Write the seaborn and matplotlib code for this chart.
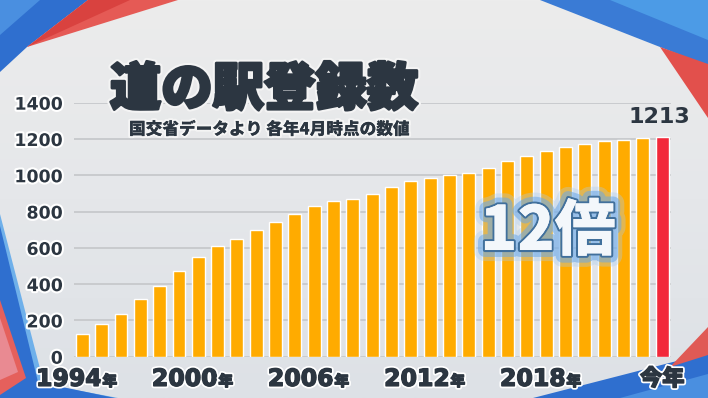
import numpy as np
import pandas as pd
import seaborn as sns
import matplotlib.pyplot as plt
import matplotlib.patheffects as pe
from matplotlib.patches import Polygon

sns.set_theme(style="white")
plt.rcParams['font.family'] = ['Noto Sans CJK JP', 'DejaVu Sans']

# data (registered count, April each year)
years = [str(y) for y in range(1994, 2024)] + ["今年"]
counts = [123, 180, 233, 316, 391, 470, 551, 612, 650, 700, 744, 784, 830, 860, 867,
          898, 935, 970, 987, 1003, 1014, 1040, 1076, 1106, 1133, 1154, 1173, 1187,
          1194, 1203, 1213]
labelled = ["1994", "2000", "2006", "2012", "2018", "今年"]

orange = "#ffab00"
red = "#f2283a"
dark = "#2c3641"

df = pd.DataFrame({"year": years, "count": counts})
bar_colors = [orange] * (len(years) - 1) + [red]

fig = plt.figure(figsize=(7.08, 3.98), dpi=100)

# background gradient + corner decoration
bg = fig.add_axes([0, 0, 1, 1], zorder=-10)
grad = np.linspace(0, 1, 256).reshape(-1, 1)
bg.imshow(grad, aspect="auto", cmap=sns.blend_palette(["#ececec", "#e5e7ea", "#dde1e6"], as_cmap=True),
          extent=[0, 708, 398, 0])
deco = [
    ([(0, 0), (88, 0), (27, 47), (0, 72)], "#2f6fcf"),
    ([(0, 0), (40, 0), (0, 35)], "#4a8fe0"),
    ([(88, 0), (178, 0), (27, 47)], "#e55a55"),
    ([(88, 0), (130, 0), (27, 47)], "#d9423f"),
    ([(540, 0), (708, 0), (708, 66), (660, 47)], "#3a7bd5"),
    ([(610, 0), (708, 0), (708, 40)], "#4c9be6"),
    ([(660, 47), (708, 64), (708, 118)], "#e2504c"),
    ([(0, 214), (44, 384), (118, 398), (0, 398)], "#6fb0ea"),
    ([(0, 226), (38, 382), (115, 398), (0, 398)], "#2f6fcf"),
    ([(0, 300), (26, 378), (0, 395)], "#e5605c"),
    ([(0, 318), (18, 372), (0, 380)], "#e98a92"),
    ([(533, 398), (708, 353), (708, 398)], "#2f6fcf"),
    ([(620, 398), (708, 374), (708, 398)], "#4a8fe0"),
    ([(670, 367), (708, 327), (708, 355)], "#e05a55"),
]
for pts, c in deco:
    bg.add_patch(Polygon(pts, closed=True, color=c, lw=0))
bg.set_xlim(0, 708)
bg.set_ylim(398, 0)
bg.axis("off")

ax = fig.add_axes([74 / 708, 41.3 / 398, 597 / 708, 254 / 398])
ax.patch.set_alpha(0)
sns.barplot(data=df, x="year", y="count", hue="year", palette=bar_colors,
            legend=False, width=0.67, ax=ax, saturation=1, zorder=3)

ax.set_xlim(-0.43, len(years) - 0.55)
ax.set_ylim(0, 1400)
ax.set_yticks(range(0, 1401, 200))
ax.yaxis.grid(True, color="#c9cbce", lw=1.4, zorder=0)
ax.set_axisbelow(True)
for s in ax.spines.values():
    s.set_visible(False)
ax.set_xlabel("")
ax.set_ylabel("")
ax.set_xticks([])
ax.tick_params(axis="y", length=0, pad=8)
outline = [pe.withStroke(linewidth=3, foreground="white")]
heavy = [pe.withStroke(linewidth=3.5, foreground="white"),
         pe.withStroke(linewidth=1, foreground=dark), pe.Normal()]
for t in ax.get_yticklabels():
    t.set_fontsize(12.5)
    t.set_fontweight("bold")
    t.set_color(dark)
    t.set_family(["DejaVu Sans"])
    t.set_path_effects(outline)

# x labels: big digits + small 年
for lab in labelled:
    i = years.index(lab)
    if lab == "今年":
        ax.annotate(lab, xy=(i, 0), xycoords=("data", "axes fraction"),
                    xytext=(0, -16), textcoords="offset points", ha="center", va="center",
                    fontsize=16, fontweight="black", color=dark, path_effects=heavy)
    else:
        ax.annotate(lab, xy=(i, 0), xycoords=("data", "axes fraction"),
                    xytext=(14, -21), textcoords="offset points", ha="right", va="baseline",
                    fontsize=17, fontweight="bold", color=dark, family=["DejaVu Sans"],
                    path_effects=heavy)
        ax.annotate("年", xy=(i, 0), xycoords=("data", "axes fraction"),
                    xytext=(14.5, -21), textcoords="offset points", ha="left", va="baseline",
                    fontsize=10.5, fontweight="black", color=dark, path_effects=heavy)

# value of the last bar
ax.annotate(str(counts[-1]), xy=(len(years) - 1, counts[-1]), xytext=(-2, 7),
            textcoords="offset points", ha="center", va="bottom", fontsize=16,
            fontweight="bold", color=dark, family=["DejaVu Sans"], annotation_clip=False)

fig.text(264 / 708, 1 - 90 / 398, "道の駅登録数", ha="center", va="center", fontsize=37,
         fontweight="black", color=dark,
         path_effects=[pe.withStroke(linewidth=5, foreground="#f4f4f4"),
                       pe.withStroke(linewidth=2, foreground=dark), pe.Normal()])
fig.text(269 / 708, 1 - 129.5 / 398, "国交省データより 各年4月時点の数値", ha="center", va="center",
         fontsize=12, fontweight="black", color=dark,
         path_effects=[pe.withStroke(linewidth=3, foreground="#f4f4f4"), pe.Normal()])

glow = [pe.withStroke(linewidth=16, foreground="#a8cdf2", alpha=0.35),
        pe.withStroke(linewidth=10, foreground="#6aa8e8", alpha=0.55),
        pe.withStroke(linewidth=3, foreground="#41709c"),
        pe.Normal()]
fig.text(548 / 708, 1 - 232 / 398, "12倍", ha="center", va="center", fontsize=44,
         fontweight="black", color="#f3f7fb", path_effects=glow)

plt.savefig("out.png", dpi=100)
